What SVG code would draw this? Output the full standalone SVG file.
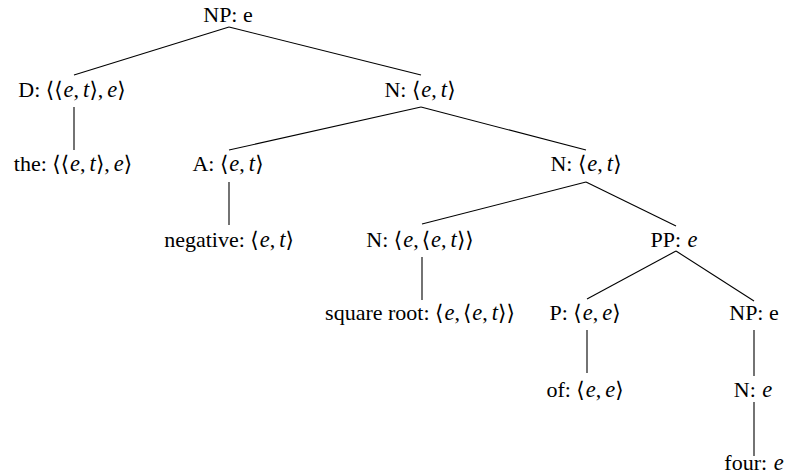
<svg xmlns="http://www.w3.org/2000/svg" width="786" height="475" viewBox="0 0 786 475">
<defs>
<style>
.m{font-style:italic;font-size:22.5px}
.b{font-family:'DejaVu Serif',serif;font-size:21.5px;font-style:normal}
</style>
</defs>
<rect width="786" height="475" fill="#fff"/>
<g id="edges" stroke="#000" stroke-width="1.1">
<line x1="229" y1="27" x2="74" y2="75"/>
<line x1="229" y1="27" x2="421" y2="75"/>
<line x1="74" y1="107" x2="74" y2="150"/>
<line x1="421" y1="107" x2="229" y2="150"/>
<line x1="421" y1="107" x2="586" y2="150"/>
<line x1="229" y1="182" x2="229" y2="225"/>
<line x1="586" y1="182" x2="422" y2="224"/>
<line x1="586" y1="182" x2="676" y2="226"/>
<line x1="422" y1="257" x2="422" y2="300"/>
<line x1="676" y1="251" x2="587" y2="299"/>
<line x1="676" y1="251" x2="754" y2="301"/>
<line x1="587" y1="330" x2="587" y2="373"/>
<line x1="754" y1="330" x2="754" y2="376"/>
<line x1="754" y1="402" x2="754" y2="456"/>
</g>
<g font-family="Liberation Serif, Times New Roman, serif" font-size="22" text-anchor="middle" fill="#000">
<g id="n-root"><text x="228" y="22">NP: e</text></g>
<g id="n-D"><text x="72" y="97">D: <tspan class="b">⟨⟨</tspan><tspan class="m" dx="1">e</tspan>,<tspan class="m" dx="4">t</tspan><tspan class="b">⟩</tspan>,<tspan class="m" dx="4">e</tspan><tspan class="b">⟩</tspan></text></g>
<g id="n-the"><text x="73" y="171">the: <tspan class="b">⟨⟨</tspan><tspan class="m" dx="1">e</tspan>,<tspan class="m" dx="4">t</tspan><tspan class="b">⟩</tspan>,<tspan class="m" dx="4">e</tspan><tspan class="b">⟩</tspan></text></g>
<g id="n-N1"><text x="420" y="97">N: <tspan class="b">⟨</tspan><tspan class="m" dx="1">e</tspan>,<tspan class="m" dx="4">t</tspan><tspan class="b">⟩</tspan></text></g>
<g id="n-A"><text x="228" y="171">A: <tspan class="b">⟨</tspan><tspan class="m" dx="1">e</tspan>,<tspan class="m" dx="4">t</tspan><tspan class="b">⟩</tspan></text></g>
<g id="n-negative"><text x="229" y="247">negative: <tspan class="b">⟨</tspan><tspan class="m" dx="1">e</tspan>,<tspan class="m" dx="4">t</tspan><tspan class="b">⟩</tspan></text></g>
<g id="n-N2"><text x="586" y="171">N: <tspan class="b">⟨</tspan><tspan class="m" dx="1">e</tspan>,<tspan class="m" dx="4">t</tspan><tspan class="b">⟩</tspan></text></g>
<g id="n-N3"><text x="420" y="247">N: <tspan class="b">⟨</tspan><tspan class="m" dx="1">e</tspan>,<tspan class="b" dx="3">⟨</tspan><tspan class="m" dx="1">e</tspan>,<tspan class="m" dx="4">t</tspan><tspan class="b">⟩⟩</tspan></text></g>
<g id="n-sq"><text x="420" y="320">square root: <tspan class="b">⟨</tspan><tspan class="m" dx="1">e</tspan>,<tspan class="b" dx="3">⟨</tspan><tspan class="m" dx="1">e</tspan>,<tspan class="m" dx="4">t</tspan><tspan class="b">⟩⟩</tspan></text></g>
<g id="n-PP"><text x="674" y="247">PP: <tspan class="m" dx="1">e</tspan></text></g>
<g id="n-P"><text x="585" y="320">P: <tspan class="b">⟨</tspan><tspan class="m" dx="1">e</tspan>,<tspan class="m" dx="4">e</tspan><tspan class="b">⟩</tspan></text></g>
<g id="n-NP2"><text x="754" y="320">NP: e</text></g>
<g id="n-of"><text x="585" y="397">of: <tspan class="b">⟨</tspan><tspan class="m" dx="1">e</tspan>,<tspan class="m" dx="4">e</tspan><tspan class="b">⟩</tspan></text></g>
<g id="n-N4"><text x="753" y="397">N: <tspan class="m" dx="1">e</tspan></text></g>
<g id="n-four"><text x="754" y="470">four: <tspan class="m" dx="1">e</tspan></text></g>
</g>
</svg>
